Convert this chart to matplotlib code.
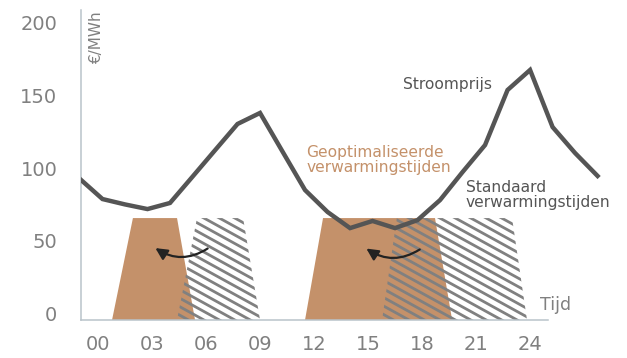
import matplotlib.pyplot as plt
from matplotlib.patches import Polygon
import numpy as np

plt.rcParams['font.family'] = ['DejaVu Sans']

# hourly electricity price (EUR/MWh), x in hours on the tick scale
price_hours = [-1.0, 0.25, 1.5, 2.75, 4.0, 5.25, 6.5, 7.75, 9.0, 10.25, 11.5, 12.75,
               14.0, 15.25, 16.5, 17.75, 19.0, 20.25, 21.5, 22.75, 24.0, 25.25, 26.5, 27.75]
price = [92.5, 78.7, 75.0, 71.8, 76.0, 94.1, 112.3, 130.4, 138.0, 111.4, 84.9, 69.8,
         58.7, 63.6, 58.7, 64.2, 78.0, 97.3, 115.9, 153.8, 167.6, 128.3, 110.4, 94.6]

# heating windows: (bottom left, top left, top right, bottom right) in hours
optimised_blocks = [(0.78, 1.94, 4.39, 5.39), (11.5, 12.5, 18.72, 19.67)]
standard_blocks = [(4.39, 5.5, 8.06, 9.0), (15.78, 16.6, 23.0, 23.83)]
block_top = 65.6

xticks = [0, 3, 6, 9, 12, 15, 18, 21, 24]
xticklabels = ['00', '03', '06', '09', '12', '15', '18', '21', '24']
yticks = [0, 50, 100, 150, 200]

orange = '#c4916a'
dark = '#555555'
grey = '#808080'

fig = plt.figure(figsize=(6.27, 3.58), dpi=100)
ax = fig.add_axes([81/627, 38/358, 529/627, 310/358])
ax.set_xlim(-0.944, 28.44)
ax.set_ylim(-4.6, 208.9)
y0 = ax.get_ylim()[0]

for bl, tl, tr, br in optimised_blocks:
    ax.add_patch(Polygon([(bl, y0), (tl, block_top), (tr, block_top), (br, y0)],
                         closed=True, facecolor=orange, edgecolor='none', zorder=1))

# diagonal hatching, clipped to each standard block
for bl, tl, tr, br in standard_blocks:
    poly = Polygon([(bl, y0), (tl, block_top), (tr, block_top), (br, y0)],
                   closed=True, facecolor='none', edgecolor='none')
    ax.add_patch(poly)
    slope = -0.55 * 18 / 1.452
    hx = np.array([bl - 2, br + 2])
    for c in np.arange(y0 - 60, block_top + 120, 5.85):
        ln, = ax.plot(hx, c + slope * (hx - bl), color=grey, lw=2.0,
                      solid_capstyle='butt', zorder=2)
        ln.set_clip_path(poly)

ax.plot(price_hours, price, color=dark, lw=3.2, zorder=3, solid_joinstyle='miter')

for tail, head in [((6.22, 45.7), (3.06, 46.0)), ((18.0, 45.0), (14.78, 45.7))]:
    ax.annotate('', xy=head, xytext=tail, zorder=4,
                arrowprops=dict(arrowstyle='-|>,head_length=0.7,head_width=0.35',
                                color='#222222', lw=1.6,
                                connectionstyle='arc3,rad=-0.35'))

ax.text(16.94, 157.7, 'Stroomprijs', color=dark, fontsize=11.2, va='center', ha='left')
ax.text(11.56, 105.9, 'Geoptimaliseerde\nverwarmingstijden', color=orange,
        fontsize=11.2, va='center', ha='left', linespacing=1.0)
ax.text(20.44, 81.8, 'Standaard\nverwarmingstijden', color=dark,
        fontsize=11.2, va='center', ha='left', linespacing=1.0)
ax.text(24.56, 5.7, 'Tijd', color=grey, fontsize=12.5, va='center', ha='left')
ax.text(-0.06, 189.6, '€/MWh', color=grey, fontsize=11, rotation=90,
        va='center', ha='center')

ax.set_xticks(xticks)
ax.set_xticklabels(xticklabels)
ax.set_yticks(yticks)
ax.tick_params(length=0, labelsize=14, labelcolor=grey)
ax.tick_params(axis='y', pad=17)
ax.tick_params(axis='x', pad=11)

for side in ['top', 'right']:
    ax.spines[side].set_visible(False)
for side in ['left', 'bottom']:
    ax.spines[side].set_color('#b9c3ca')
    ax.spines[side].set_linewidth(1.1)
ax.spines['bottom'].set_bounds(-0.944, 25.0)

fig.savefig('out.png', dpi=100)
